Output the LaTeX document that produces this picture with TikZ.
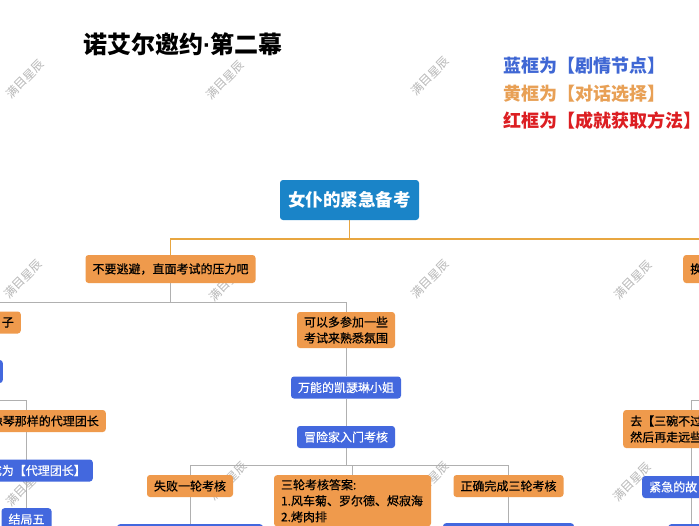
\documentclass[tikz,border=0pt]{standalone}
\usepackage{fontspec}
\setmainfont{Noto Sans CJK SC}
\newfontfamily\medfont{Noto Sans CJK SC}[FakeBold=0.5]
\newfontfamily\latinfont{Liberation Sans}
\usetikzlibrary{backgrounds}
\definecolor{ob}{HTML}{EF9A4C}
\definecolor{bb}{HTML}{4368DE}
\definecolor{rb}{HTML}{1A84C8}
\definecolor{gl}{HTML}{B0B0B0}
\definecolor{yl}{HTML}{E8A640}
\definecolor{legblue}{HTML}{3F67D4}
\definecolor{legor}{HTML}{E8A055}
\definecolor{legred}{HTML}{DC1E22}
\tikzset{
  base/.style={rounded corners=3pt, inner xsep=7pt, inner ysep=0pt, font=\medfont\fontsize{12}{16}\selectfont, minimum height=22pt},
  obox/.style={base, fill=ob, text=black},
  bbox/.style={base, fill=bb, text=white},
  rootbox/.style={rounded corners=3pt, fill=rb, text=white, minimum width=139pt, minimum height=40pt, font=\fontsize{17.5}{18}\selectfont\bfseries},
  conn/.style={draw=gl, line width=1pt},
  rconn/.style={draw=yl, line width=1.6pt},
  legend/.style={anchor=west, inner sep=0pt, font=\fontsize{18}{18}\selectfont\bfseries},
  wm/.style={text=black!28, rotate=45, inner sep=0pt, font=\fontsize{12}{12}\selectfont}
}
\begin{document}
\begin{tikzpicture}[x=1pt,y=-1pt]
\useasboundingbox (0,0) rectangle (699,525);
\clip (0,0) rectangle (699,525);

% title and legend
\node[font=\fontsize{24}{24}\selectfont\bfseries, inner sep=0pt] (title) at (183,44) {诺艾尔邀约{\latinfont\bfseries ·}第二幕};
\node[legend, text=legblue] (leg1) at (503,66) {蓝框为【剧情节点】};
\node[legend, text=legor] (leg2) at (503,94) {黄框为【对话选择】};
\node[legend, text=legred] (leg3) at (503,121) {红框为【成就获取方法】};

% root and first level
\node[rootbox] (root) at (349.5,200) {女仆的紧急备考};
\node[obox, minimum height=28pt] (c1) at (170.5,269) {不要逃避，直面考试的压力吧};
\node[obox, minimum height=28pt, anchor=west, text width=86pt, align=left] (cR) at (683,269) {换};

% left branch
\node[obox, anchor=east, text width=66pt, align=right] (lz) at (21,322.5) {子};
\node[bbox, anchor=east, minimum width=80pt, minimum height=23pt] (lb) at (3,371.5) {};
\node[obox, anchor=east] (qin) at (106,421) {成为像琴那样的代理团长};
\node[bbox, anchor=east] (dl) at (93,470.5) {成为【代理团长】};
\node[bbox, anchor=north] (j5) at (26.5,508) {结局五};

% middle branch
\node[obox, align=center, minimum height=36pt] (kao) at (346,330) {可以多参加一些\\考试来熟悉氛围};
\node[bbox] (kai) at (346,387.5) {万能的凯瑟琳小姐};
\node[bbox] (mao) at (346,437) {冒险家入门考核};
\node[obox] (shi) at (190,486) {失败一轮考核};
\node[obox, anchor=north, text width=143pt, align=left, inner ysep=4pt] (san) at (352.5,475) {三轮考核答案:\\1.风车菊、罗尔德、烬寂海\\2.烤肉排};
\node[obox] (zq) at (508.5,486) {正确完成三轮考核};
\node[bbox, anchor=north, minimum width=146pt] (b1) at (190,524) {};
\node[bbox, anchor=north, minimum width=131pt] (b3) at (508.5,523) {};

% right branch
\node[obox, anchor=west, text width=122pt, align=left, minimum height=38pt] (qu) at (623,429) {去【三碗不过港】\\然后再走远些};
\node[bbox, anchor=west, text width=84pt, align=left] (jin) at (642,487) {紧急的故};
\node[bbox, anchor=north west, minimum width=60pt] (b4) at (668,524) {};

\begin{pgfonlayer}{background}
\fill[white] (0,0) rectangle (699,525);
% watermarks (under the boxes)
\node[wm] (wm1) at (25,79) {满目星辰};
\node[wm] (wm2) at (225,80) {满目星辰};
\node[wm] (wm3) at (430,76) {满目星辰};
\node[wm] (wm4) at (23,279) {满目星辰};
\node[wm] (wm5) at (228,282) {满目星辰};
\node[wm] (wm6) at (430,279) {满目星辰};
\node[wm] (wm7) at (633,280) {满目星辰};
\node[wm] (wm8) at (25,487) {满目星辰};
\node[wm] (wm9) at (228,481) {满目星辰};
\node[wm] (wm10) at (430,481) {满目星辰};
\node[wm] (wm11) at (632,482) {满目星辰};

\path (root.south) ++(0,19) coordinate (rj);
\draw[rconn] (root.south) -- (rj);
\draw[rconn] (c1.north) |- (rj) -| (cR.north);

\path (c1.south) ++(0,19) coordinate (c1j);
\draw[conn] (c1.south) -- (c1j);
\draw[conn] (lz.north) |- (c1j) -| (kao.north);
\draw[conn] (lz.south) -- (lz.south |- lb.north);
\coordinate (sp) at (26,400);
\draw[conn] (lb.south) |- (sp) -- (sp |- j5.north);

\draw[conn] (kao.south) -- (kai.north);
\draw[conn] (kai.south) -- (mao.north);
\path (mao.south) ++(0,17) coordinate (mj);
\draw[conn] (mao.south) -- (mj);
\draw[conn] (shi.north) |- (mj) -| (zq.north);
\draw[conn] (mj) -| (san.north);
\draw[conn] (shi.south) -- (b1.north);
\draw[conn] (zq.south) -- (b3.north);

\coordinate (rt) at (715,400);
\draw[conn] (rt) -| (qu.north);
\draw[conn] (qu.south) -- (jin.north);
\draw[conn] (jin.south) -- (jin.south |- b4.north);
\end{pgfonlayer}
\end{tikzpicture}
\end{document}
